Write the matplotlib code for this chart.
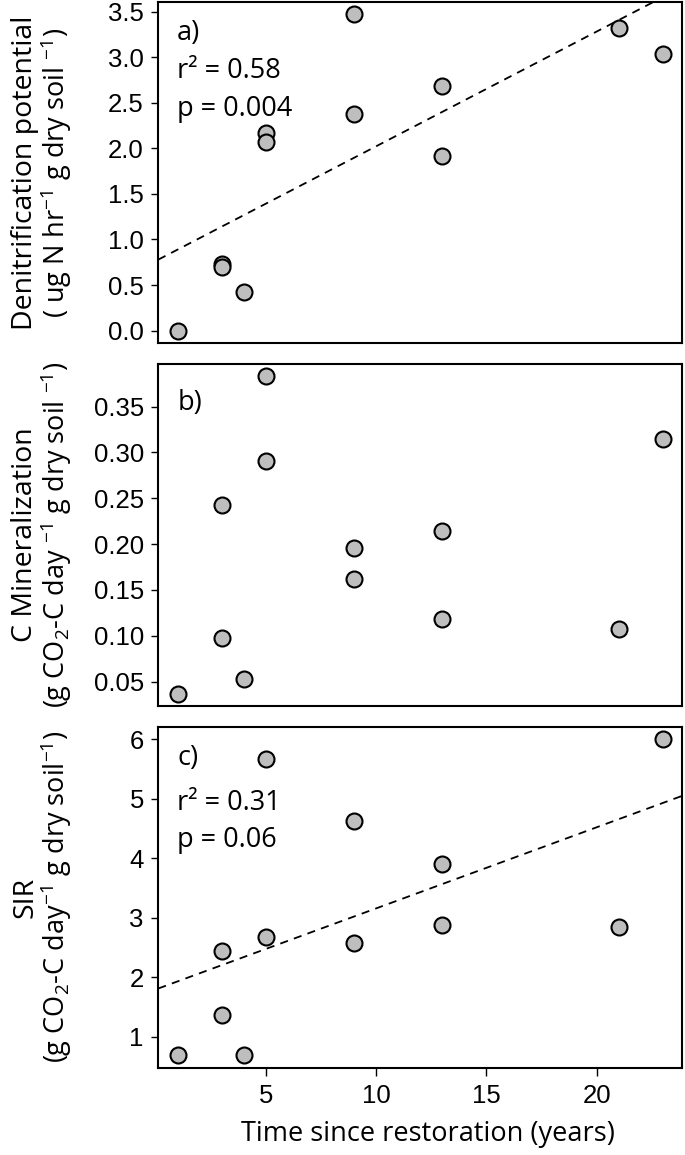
import numpy as np
import matplotlib
matplotlib.use("Agg")
import matplotlib.pyplot as plt

plt.rcParams['mathtext.fontset'] = 'custom'
plt.rcParams['mathtext.rm'] = 'Open Sans'
plt.rcParams['mathtext.it'] = 'Open Sans:italic'
plt.rcParams['mathtext.bf'] = 'Open Sans:bold'

# Data (years since restoration)
years = [1, 3, 3, 4, 5, 5, 9, 9, 13, 13, 21, 23]
denitrification = [0.00, 0.73, 0.70, 0.42, 2.17, 2.07, 3.47, 2.38, 2.68, 1.92, 3.32, 3.03]
c_mineralization = [0.037, 0.243, 0.098, 0.053, 0.383, 0.291, 0.196, 0.162, 0.214, 0.118, 0.107, 0.315]
sir = [0.70, 2.44, 1.37, 0.69, 5.67, 2.68, 4.63, 2.57, 3.91, 2.87, 2.85, 6.00]

xticks = [5, 10, 15, 20]
yticks_a = [0.0, 0.5, 1.0, 1.5, 2.0, 2.5, 3.0, 3.5]
yticks_b = [0.05, 0.10, 0.15, 0.20, 0.25, 0.30, 0.35]
yticks_c = [1, 2, 3, 4, 5, 6]

W, H = 685, 1155
fig = plt.figure(figsize=(W / 100, H / 100), dpi=100)

left = 158.3 / W
width = (682.3 - 158.3) / W
panels = [(1.7, 343.3), (363.7, 706.2), (726.5, 1067.8)]

TEXT_FONT = ['Open Sans', 'DejaVu Sans']
TICK_FONT = 'Liberation Sans'
TICK_SIZE = 18.5


def make_axes(top, bottom):
    return fig.add_axes([left, 1 - bottom / H, width, (bottom - top) / H])


def r_lim(vals):
    lo, hi = min(vals), max(vals)
    ext = 0.04 * (hi - lo)
    return lo - ext, hi + ext


axes = [make_axes(t, b) for t, b in panels]
series = [denitrification, c_mineralization, sir]
yticks_all = [yticks_a, yticks_b, yticks_c]
yfmt = ['{:.1f}', '{:.2f}', '{:d}']

for ax, y, yt, fmt in zip(axes, series, yticks_all, yfmt):
    ax.scatter(years, y, s=11.5 ** 2, facecolor='#bebebe', edgecolor='black',
               linewidth=1.5, zorder=3, clip_on=False)
    ax.set_xlim(*r_lim(years))
    ax.set_ylim(*r_lim(y))
    ax.set_yticks(yt)
    ax.set_yticklabels([fmt.format(v) for v in yt], fontfamily=TICK_FONT, fontsize=TICK_SIZE)
    ax.set_xticks(xticks)
    ax.tick_params(axis='both', direction='out', length=7.5 * 0.72, width=1.0,
                   pad=5, color='black')
    for sp in ax.spines.values():
        sp.set_linewidth(1.5)
        sp.set_color('black')

for ax in axes[:2]:
    ax.tick_params(axis='x', bottom=False, labelbottom=False)

axes[2].set_xticklabels([str(v) for v in xticks], fontfamily=TICK_FONT, fontsize=TICK_SIZE)
axes[2].tick_params(axis='x', pad=6)

# regression lines (panels a and c)
for ax, y in [(axes[0], denitrification), (axes[2], sir)]:
    slope, intercept = np.polyfit(years, y, 1)
    ax.axline((0, intercept), slope=slope, color='black', lw=1.3,
              linestyle=(0, (4.5, 3.5)), zorder=2)

# panel letters and stats
def ann(ax, y, s):
    ax.text(0.036, y, s, transform=ax.transAxes, fontfamily=TEXT_FONT,
            fontsize=19.5, ha='left', va='baseline')

ann(axes[0], 0.888, 'a)')
ann(axes[0], 0.777, 'r² = 0.58')
ann(axes[0], 0.665, 'p = 0.004')
ann(axes[1], 0.865, 'b)')
ann(axes[2], 0.887, 'c)')
ann(axes[2], 0.755, 'r² = 0.31')
ann(axes[2], 0.648, 'p = 0.06')

# y labels (two lines each)
def ylab(ax, line1, line2):
    x1 = (25 - 158.3) / 524
    x2 = (56 - 158.3) / 524
    ax.text(x1, 0.5, line1, transform=ax.transAxes, rotation=90, ha='center',
            va='center', fontfamily=TEXT_FONT, fontsize=20.5)
    ax.text(x2, 0.5, line2, transform=ax.transAxes, rotation=90, ha='center',
            va='center', fontfamily=TEXT_FONT, fontsize=19.5)

ylab(axes[0], 'Denitrification potential',
     r'( ug N hr$^{\mathregular{-1}}$ g dry soil $^{\mathregular{-1}}$)')
ylab(axes[1], 'C Mineralization',
     r'(g CO$_{\mathregular{2}}$-C day $^{\mathregular{-1}}$ g dry soil $^{\mathregular{-1}}$)')
ylab(axes[2], 'SIR',
     r'(g CO$_{\mathregular{2}}$-C day$^{\mathregular{-1}}$ g dry soil$^{\mathregular{-1}}$)')

fig.text(427.5 / W, 1 - 1134 / H, 'Time since restoration (years)', ha='center',
         va='center', fontfamily=TEXT_FONT, fontsize=19.5)

fig.savefig('out.png', dpi=100)
